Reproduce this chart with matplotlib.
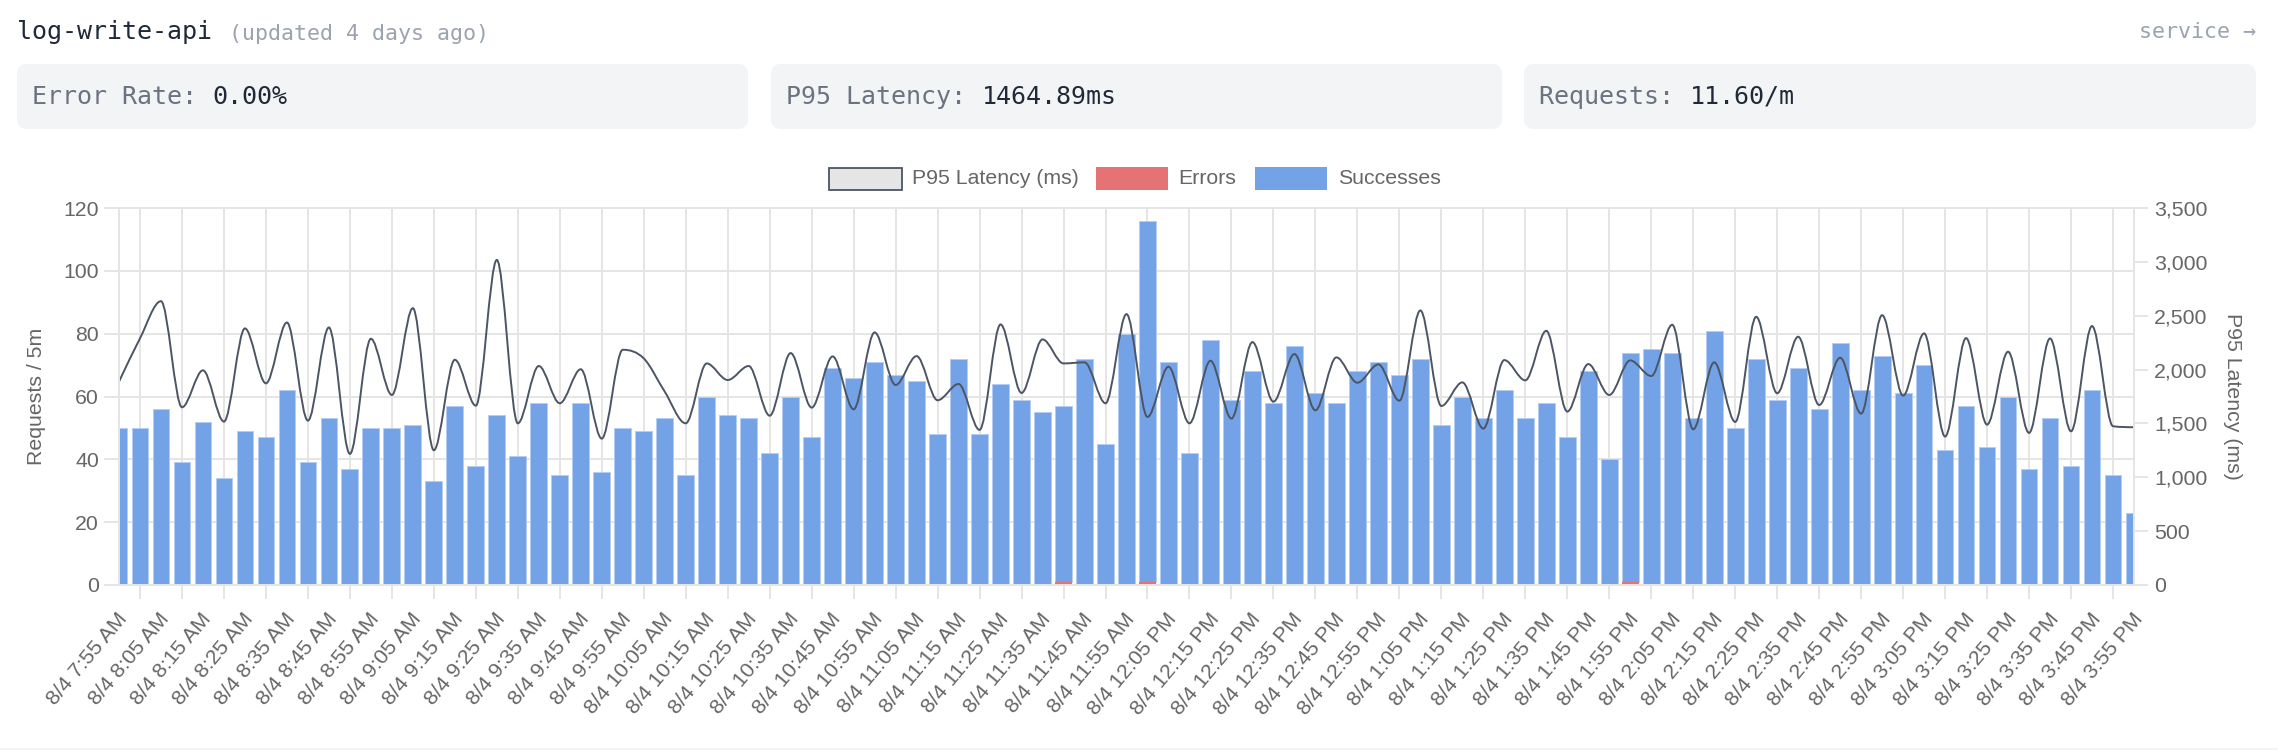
import numpy as np
import matplotlib
matplotlib.use("Agg")
import matplotlib.pyplot as plt
from matplotlib.patches import FancyBboxPatch, PathPatch, Rectangle
from matplotlib.path import Path
from matplotlib.transforms import ScaledTranslation

W, H = 2278, 750

successes = [50, 50, 56, 39, 52, 34, 49, 47, 62, 39, 53, 37, 50, 50, 51, 33, 57, 38, 54, 41,
             58, 35, 58, 36, 50, 49, 53, 35, 60, 54, 53, 42, 60, 47, 69, 66, 71, 67, 65, 48,
             72, 48, 64, 59, 55, 56, 72, 45, 80, 115, 71, 42, 78, 59, 68, 58, 76, 61, 58, 68,
             71, 67, 72, 51, 60, 53, 62, 53, 58, 47, 68, 40, 73, 75, 74, 53, 81, 50, 72, 59,
             69, 56, 77, 62, 73, 61, 70, 43, 57, 44, 60, 37, 53, 38, 62, 35, 23]
errors = [0] * 97
errors[45] = 1
errors[49] = 1
errors[72] = 1
latency = [1888, 2290, 2635, 1650, 1993, 1517, 2382, 1872, 2437, 1526, 2391, 1217, 2286, 1764,
           2570, 1251, 2091, 1665, 3018, 1501, 2033, 1687, 2003, 1359, 2184, 2104, 1795, 1501,
           2057, 1903, 2033, 1572, 2153, 1647, 2122, 1631, 2345, 1857, 2125, 1715, 1866, 1440,
           2419, 1783, 2280, 2057, 2067, 1687, 2515, 1560, 2026, 1501, 2082, 1545, 2255, 1702,
           2144, 1622, 2113, 1878, 2048, 1711, 2549, 1662, 1881, 1452, 2088, 1900, 2360, 1610,
           2051, 1764, 2085, 1940, 2416, 1446, 2067, 1514, 2490, 1780, 2305, 1671, 2110, 1591,
           2505, 1758, 2336, 1378, 2292, 1489, 2166, 1412, 2289, 1427, 2404, 1474, 1465]
tick_labels = ["8/4 7:55 AM", "8/4 8:05 AM", "8/4 8:15 AM", "8/4 8:25 AM", "8/4 8:35 AM",
               "8/4 8:45 AM", "8/4 8:55 AM", "8/4 9:05 AM", "8/4 9:15 AM", "8/4 9:25 AM",
               "8/4 9:35 AM", "8/4 9:45 AM", "8/4 9:55 AM", "8/4 10:05 AM", "8/4 10:15 AM",
               "8/4 10:25 AM", "8/4 10:35 AM", "8/4 10:45 AM", "8/4 10:55 AM", "8/4 11:05 AM",
               "8/4 11:15 AM", "8/4 11:25 AM", "8/4 11:35 AM", "8/4 11:45 AM", "8/4 11:55 AM",
               "8/4 12:05 PM", "8/4 12:15 PM", "8/4 12:25 PM", "8/4 12:35 PM", "8/4 12:45 PM",
               "8/4 12:55 PM", "8/4 1:05 PM", "8/4 1:15 PM", "8/4 1:25 PM", "8/4 1:35 PM",
               "8/4 1:45 PM", "8/4 1:55 PM", "8/4 2:05 PM", "8/4 2:15 PM", "8/4 2:25 PM",
               "8/4 2:35 PM", "8/4 2:45 PM", "8/4 2:55 PM", "8/4 3:05 PM", "8/4 3:15 PM",
               "8/4 3:25 PM", "8/4 3:35 PM", "8/4 3:45 PM", "8/4 3:55 PM"]
cards = [("Error Rate: ", "0.00%"), ("P95 Latency: ", "1464.89ms"), ("Requests: ", "11.60/m")]

MONO = "DejaVu Sans Mono"
SANS = "Liberation Sans"
GRID = "#e5e5e5"
TEXT = "#666666"
BAR = "#74a2e6"
ERR = "#e57373"
LINE = "#4b5563"
CHART_FONT = 21.3


def pt(px):
    return px * 0.72


def monotone_path(xs, ys):
    # monotone cubic, flat at every local peak and dip
    n = len(xs)
    delta = np.diff(ys) / np.diff(xs)
    m = np.zeros(n)
    m[0] = delta[0]
    m[-1] = delta[-1]
    for i in range(1, n - 1):
        if np.sign(delta[i - 1]) == np.sign(delta[i]):
            m[i] = (delta[i - 1] + delta[i]) / 2
    for i in range(n - 1):
        if delta[i] == 0:
            m[i] = m[i + 1] = 0
            continue
        a = m[i] / delta[i]
        b = m[i + 1] / delta[i]
        sq = a * a + b * b
        if sq > 9:
            tau = 3 / np.sqrt(sq)
            m[i] = a * tau * delta[i]
            m[i + 1] = b * tau * delta[i]
    verts = [(xs[0], ys[0])]
    codes = [Path.MOVETO]
    for i in range(n - 1):
        h = (xs[i + 1] - xs[i]) / 3
        verts += [(xs[i] + h, ys[i] + h * m[i]), (xs[i + 1] - h, ys[i + 1] - h * m[i + 1]), (xs[i + 1], ys[i + 1])]
        codes += [Path.CURVE4] * 3
    return Path(verts, codes)


fig = plt.figure(figsize=(W / 100, H / 100), dpi=100, facecolor="white")

# page furniture is laid out in pixels on a full-figure axes
page = fig.add_axes([0, 0, 1, 1])
page.set_xlim(0, W)
page.set_ylim(H, 0)
page.axis("off")

page.add_patch(Rectangle((0, 748), W, 2, facecolor="#f3f4f6", edgecolor="none"))
page.text(17, 39.5, "log-write-api", family=MONO, fontsize=pt(25), color="#1f2937", va="baseline")
page.text(229, 39.5, "(updated 4 days ago)", family=MONO, fontsize=pt(21.6), color="#9ca3af", va="baseline")
page.text(2256, 38.5, "service →", family=MONO, fontsize=pt(21.6), color="#9ca3af", va="baseline", ha="right")

card_x = [(17, 748), (771, 1502), (1524, 2256)]
char_w = 25 * 0.602
for (x0, x1), (label, value) in zip(card_x, cards):
    page.add_patch(FancyBboxPatch((x0, 64), x1 - x0, 65, boxstyle="round,pad=0,rounding_size=10",
                                  facecolor="#f3f4f6", edgecolor="none"))
    page.text(x0 + 15, 104, label, family=MONO, fontsize=pt(25), color="#6b7280", va="baseline")
    page.text(x0 + 15 + len(label) * char_w, 104, value, family=MONO, fontsize=pt(25),
              color="#1f2937", va="baseline")

# legend
page.add_patch(Rectangle((828.5, 167.5), 73, 22, facecolor="#e5e5e5", edgecolor=LINE, linewidth=1.3))
page.add_patch(Rectangle((1096, 167), 72, 23, facecolor=ERR, edgecolor="none"))
page.add_patch(Rectangle((1255, 167), 72, 23, facecolor=BAR, edgecolor="none"))
for x, name in [(912, "P95 Latency (ms)"), (1178, "Errors"), (1338, "Successes")]:
    page.text(x, 178.5, name, family=SANS, fontsize=pt(CHART_FONT), color=TEXT, va="center")

# chart
left, right, top, bottom = 119, 2134, 208, 585
ax = fig.add_axes([left / W, 1 - bottom / H, (right - left) / W, (bottom - top) / H])
x = np.arange(len(successes))
ax.bar(x, successes, width=0.8, bottom=errors, color=BAR, edgecolor="#b4cdf2", linewidth=0.7)
ax.bar(x, errors, width=0.8, color=ERR, edgecolor="none", zorder=3)
ax.set_xlim(0, 96)
ax.set_ylim(0, 120)
ax.set_axisbelow(True)

ax.set_yticks(np.arange(0, 121, 20))
ax.set_xticks(x[1::2])
ax.set_xticklabels([])
ax.set_xticks(x[0::2], tick_labels, minor=True)
ax.grid(True, which="major", color=GRID, linewidth=1.4)
ax.tick_params(axis="x", which="major", length=pt(14), width=1.4, color=GRID)
ax.tick_params(axis="x", which="minor", length=0, pad=pt(31), labelsize=pt(CHART_FONT), labelcolor=TEXT)
ax.tick_params(axis="y", length=pt(15), width=1.4, color=GRID, pad=pt(5), labelsize=pt(CHART_FONT), labelcolor=TEXT)
shift = ScaledTranslation(5 / 100, 0, fig.dpi_scale_trans)
for lab in ax.get_xticklabels(minor=True):
    lab.set_family(SANS)
    lab.set_rotation(50)
    lab.set_ha("right")
    lab.set_va("center")
    lab.set_rotation_mode("anchor")
    lab.set_transform(lab.get_transform() + shift)
for lab in ax.get_yticklabels():
    lab.set_family(SANS)
for s in ax.spines.values():
    s.set_color(GRID)
    s.set_linewidth(1.4)

ax2 = ax.twinx()
ax2.set_ylim(0, 3500)
ax2.set_yticks(np.arange(0, 3501, 500))
ax2.set_yticklabels([f"{v:,}" for v in range(0, 3501, 500)], family=SANS)
ax2.tick_params(axis="y", length=pt(14), width=1.4, color=GRID, pad=pt(6), labelsize=pt(CHART_FONT), labelcolor=TEXT)
for s in ax2.spines.values():
    s.set_color(GRID)
    s.set_linewidth(1.4)
path = monotone_path(x.astype(float), np.array(latency, dtype=float))
ax2.add_patch(PathPatch(path, facecolor="none", edgecolor=LINE, linewidth=1.4, capstyle="round"))

page.text(36, 396.5, "Requests / 5m", family=SANS, fontsize=pt(CHART_FONT), color=TEXT, rotation=90, ha="center", va="center")
page.text(2232.5, 396.5, "P95 Latency (ms)", family=SANS, fontsize=pt(CHART_FONT), color=TEXT, rotation=270, ha="center", va="center")

fig.savefig("out.png", dpi=100)
